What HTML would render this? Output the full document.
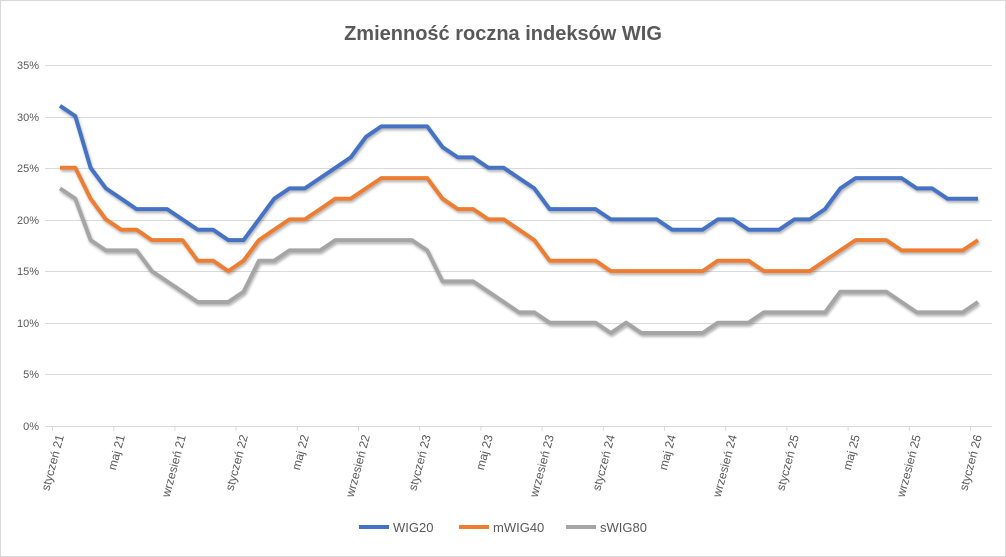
<!DOCTYPE html>
<html><head><meta charset="utf-8"><style>
body{margin:0;background:#fff;}
svg{display:block;font-family:"Liberation Sans",sans-serif;}
</style></head><body>
<svg width="1006" height="557" xmlns="http://www.w3.org/2000/svg">
<rect x="0.5" y="0.5" width="1005" height="556" fill="#fff" stroke="#d9d9d9"/>
<text x="503" y="40" text-anchor="middle" font-size="20" font-weight="bold" fill="#595959">Zmienność roczna indeksów WIG</text>
<defs><filter id="sh" x="-5%" y="-5%" width="110%" height="120%"><feDropShadow dx="1" dy="2" stdDeviation="1.2" flood-color="#000" flood-opacity="0.3"/></filter></defs>
<g stroke="#d9d9d9" stroke-width="1">
<line x1="45" x2="992" y1="65.5" y2="65.5"/><line x1="45" x2="992" y1="117.5" y2="117.5"/><line x1="45" x2="992" y1="168.5" y2="168.5"/><line x1="45" x2="992" y1="220.5" y2="220.5"/><line x1="45" x2="992" y1="271.5" y2="271.5"/><line x1="45" x2="992" y1="323.5" y2="323.5"/><line x1="45" x2="992" y1="374.5" y2="374.5"/><line x1="45" x2="992" y1="426.5" y2="426.5"/>
</g>
<g id="ticks" stroke="#d9d9d9" stroke-width="1"></g>
<g font-size="11" fill="#595959" text-anchor="end">
<text x="39" y="69">35%</text><text x="39" y="121">30%</text><text x="39" y="172">25%</text><text x="39" y="224">20%</text><text x="39" y="275">15%</text><text x="39" y="327">10%</text><text x="39" y="378">5%</text><text x="39" y="430">0%</text>
</g>
<g id="lines" fill="none" stroke-width="4" stroke-linejoin="round" filter="url(#sh)"></g>
<g font-size="12" fill="#595959" text-anchor="end">
<text transform="translate(64,436) rotate(-75)">styczeń 21</text>
<text transform="translate(125,436) rotate(-75)">maj 21</text>
<text transform="translate(186,436) rotate(-75)">wrzesień 21</text>
<text transform="translate(248,436) rotate(-75)">styczeń 22</text>
<text transform="translate(309,436) rotate(-75)">maj 22</text>
<text transform="translate(370,436) rotate(-75)">wrzesień 22</text>
<text transform="translate(431,436) rotate(-75)">styczeń 23</text>
<text transform="translate(493,436) rotate(-75)">maj 23</text>
<text transform="translate(554,436) rotate(-75)">wrzesień 23</text>
<text transform="translate(615,436) rotate(-75)">styczeń 24</text>
<text transform="translate(676,436) rotate(-75)">maj 24</text>
<text transform="translate(737,436) rotate(-75)">wrzesień 24</text>
<text transform="translate(799,436) rotate(-75)">styczeń 25</text>
<text transform="translate(860,436) rotate(-75)">maj 25</text>
<text transform="translate(921,436) rotate(-75)">wrzesień 25</text>
<text transform="translate(982,436) rotate(-75)">styczeń 26</text>
</g>
<g font-size="13" fill="#595959">
<line x1="359" x2="389" y1="527" y2="527" stroke="#4472c4" stroke-width="4"/><text x="393" y="532">WIG20</text>
<line x1="459" x2="489" y1="527" y2="527" stroke="#ed7d31" stroke-width="4"/><text x="493" y="532">mWIG40</text>
<line x1="566" x2="596" y1="527" y2="527" stroke="#a5a5a5" stroke-width="4"/><text x="600" y="532">sWIG80</text>
</g>
</svg>
<script>
var d={"#4472c4":[31,30,25,23,22,21,21,21,20,19,19,18,18,20,22,23,23,24,25,26,28,29,29,29,29,27,26,26,25,25,24,23,21,21,21,21,20,20,20,20,19,19,19,20,20,19,19,19,20,20,21,23,24,24,24,24,23,23,22,22,22],
"#ed7d31":[25,25,22,20,19,19,18,18,18,16,16,15,16,18,19,20,20,21,22,22,23,24,24,24,24,22,21,21,20,20,19,18,16,16,16,16,15,15,15,15,15,15,15,16,16,16,15,15,15,15,16,17,18,18,18,17,17,17,17,17,18],
"#a5a5a5":[23,22,18,17,17,17,15,14,13,12,12,12,13,16,16,17,17,17,18,18,18,18,18,18,17,14,14,14,13,12,11,11,10,10,10,10,9,10,9,9,9,9,9,10,10,10,11,11,11,11,11,13,13,13,13,12,11,11,11,11,12]};
var g=document.getElementById("lines"),h="";
["#a5a5a5","#ed7d31","#4472c4"].forEach(function(c){var p=d[c].map(function(v,i){return (i?"L":"M")+(60+i*15.3).toFixed(1)+","+(426-v*10.33).toFixed(1)}).join("");h+='<path d="'+p+'" stroke="'+c+'"/>';});
g.innerHTML=h;
var t="";for(var k=0;k<16;k++){var x=(52.5+k*61.2).toFixed(1);t+='<line x1="'+x+'" x2="'+x+'" y1="426" y2="431"/>';}
document.getElementById("ticks").innerHTML=t;
</script>
</body></html>
